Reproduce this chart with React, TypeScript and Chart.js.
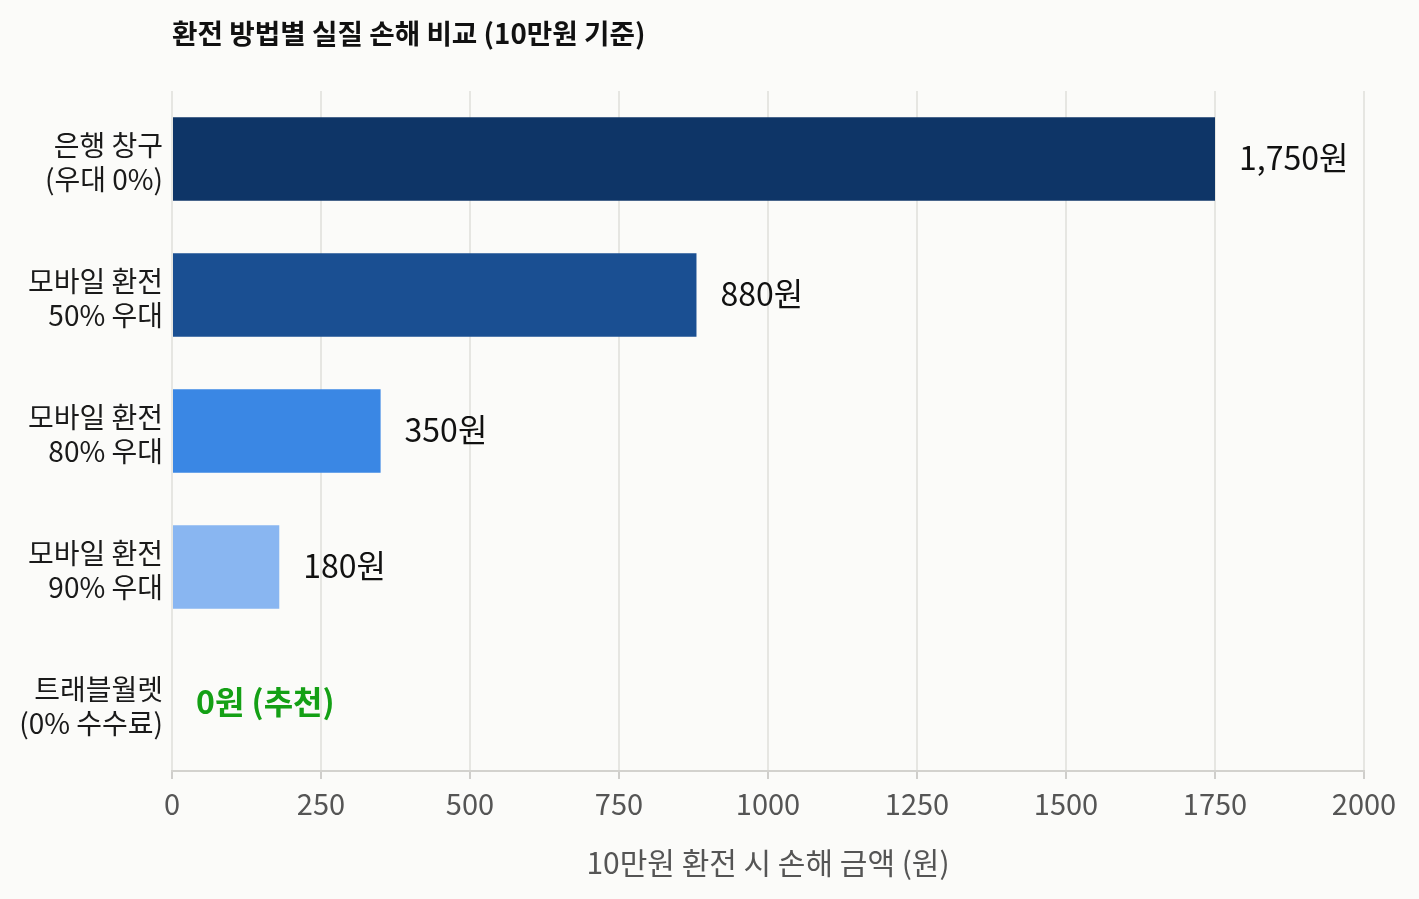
import { useEffect, useRef } from 'react';
import { Chart, registerables } from 'chart.js';

Chart.register(...registerables);

const categories = [
  ['은행 창구', '(우대 0%)'],
  ['모바일 환전', '50% 우대'],
  ['모바일 환전', '80% 우대'],
  ['모바일 환전', '90% 우대'],
  ['트래블월렛', '(0% 수수료)'],
];
const losses = [1750, 880, 350, 180, 0];
const valueLabels = ['1,750원', '880원', '350원', '180원', '0원 (추천)'];
const barColors = ['#0e3567', '#1a4f92', '#3a87e4', '#89b6f1', '#89b6f1'];
const xTicks = [0, 250, 500, 750, 1000, 1250, 1500, 1750, 2000];

const FONT = '"Noto Sans CJK KR", "Noto Sans", sans-serif';
const TITLE = '환전 방법별 실질 손해 비교 (10만원 기준)';

const labelPlugin = {
  id: 'valueLabels',
  afterDatasetsDraw(chart: any) {
    const { ctx } = chart;
    const meta = chart.getDatasetMeta(0);
    ctx.save();
    ctx.textBaseline = 'middle';
    ctx.textAlign = 'left';
    meta.data.forEach((bar: any, i: number) => {
      const last = i === valueLabels.length - 1;
      ctx.font = `${last ? 'bold ' : ''}32px ${FONT}`;
      ctx.fillStyle = last ? '#14a015' : '#111111';
      ctx.fillText(valueLabels[i], bar.x + 24, bar.y - 1);
    });
    ctx.restore();
  },
};

const titlePlugin = {
  id: 'leftTitle',
  afterDraw(chart: any) {
    const { ctx, chartArea } = chart;
    ctx.save();
    ctx.font = `bold 27.7px ${FONT}`;
    ctx.fillStyle = '#111111';
    ctx.textAlign = 'left';
    ctx.textBaseline = 'middle';
    ctx.fillText(TITLE, chartArea.left, 33);
    ctx.restore();
  },
};

export default function App() {
  const canvasRef = useRef<HTMLCanvasElement>(null);
  const chartRef = useRef<Chart | null>(null);

  useEffect(() => {
    if (!canvasRef.current) return;
    if (chartRef.current) chartRef.current.destroy();

    chartRef.current = new Chart(canvasRef.current, {
      type: 'bar',
      data: {
        labels: categories,
        datasets: [{
          data: losses,
          backgroundColor: barColors,
          borderWidth: 0,
          categoryPercentage: 1,
          barPercentage: 0.615,
        }],
      },
      options: {
        indexAxis: 'y',
        animation: false,
        responsive: true,
        maintainAspectRatio: false,
        layout: { padding: { top: 91, right: 55, left: 0, bottom: 0 } },
        plugins: {
          legend: { display: false },
          tooltip: { enabled: false },
        },
        scales: {
          x: {
            min: 0,
            max: 2000,
            afterBuildTicks(scale: any) {
              scale.ticks = xTicks.map(v => ({ value: v }));
            },
            afterFit(scale: any) {
              scale.height = 128;
            },
            grid: {
              color: '#e6e6e2',
              lineWidth: 2,
              tickColor: '#cfcecb',
              tickLength: 8,
            },
            border: { color: '#d3d2ce', width: 2 },
            ticks: {
              color: '#555555',
              font: { family: FONT, size: 29 },
              padding: 8,
              maxRotation: 0,
              callback: (v: any) => String(v),
            },
            title: {
              display: true,
              text: '10만원 환전 시 손해 금액 (원)',
              color: '#555555',
              font: { family: FONT, size: 30 },
              padding: { top: 10, bottom: 18 },
            },
          },
          y: {
            afterFit(scale: any) {
              scale.width = 172;
            },
            grid: { display: false },
            border: { display: false },
            ticks: {
              color: '#1a1a1a',
              font: { family: FONT, size: 28, lineHeight: 1.22 },
              padding: 1,
              labelOffset: 3,
            },
          },
        },
      },
      plugins: [labelPlugin, titlePlugin],
    });

    return () => {
      if (chartRef.current) {
        chartRef.current.destroy();
        chartRef.current = null;
      }
    };
  }, []);

  return (
    <div style={{ position: 'fixed', inset: 0, background: '#fbfbf9' }}>
      <canvas ref={canvasRef}></canvas>
    </div>
  );
}
